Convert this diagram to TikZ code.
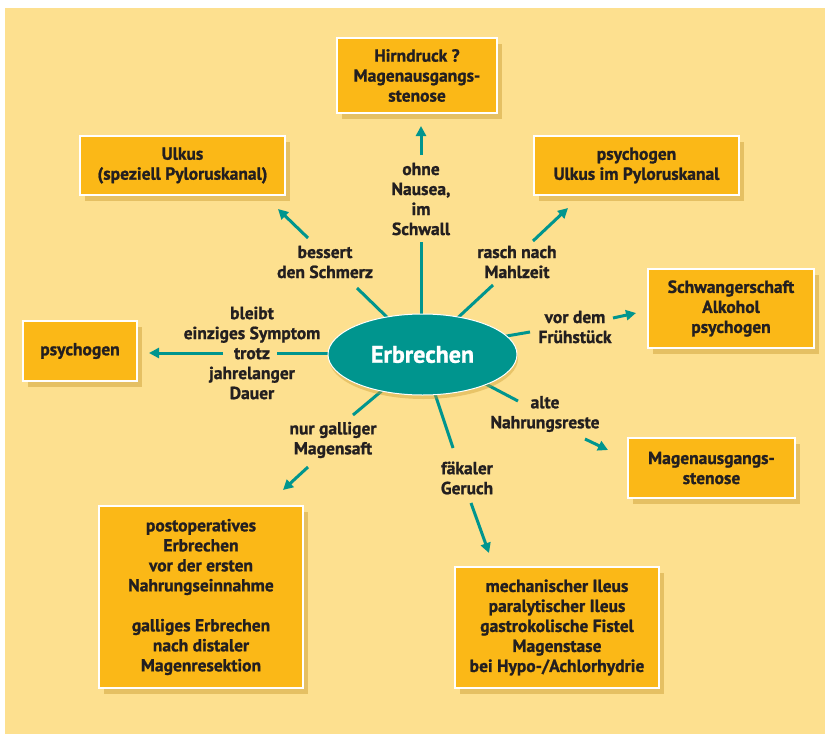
\documentclass[tikz,border=0pt]{standalone}
\usepackage{fontspec}
\setmainfont{PT Sans}[BoldFeatures={FakeBold=1.2}]
\usetikzlibrary{arrows.meta,shadows,shapes.geometric}
\definecolor{bgc}{HTML}{FDE08F}
\definecolor{boxc}{HTML}{FBB817}
\definecolor{tealc}{HTML}{00958E}
\definecolor{txtc}{HTML}{231F20}
\definecolor{shc}{HTML}{C99A2E}
\tikzset{
  box/.style={rectangle, fill=boxc, draw=white, line width=1.2pt, inner sep=0pt,
    align=center, text=txtc, font=\fontsize{17.5}{20}\selectfont\bfseries,
    drop shadow={shadow xshift=5pt, shadow yshift=-6pt, fill=shc, opacity=0.45}},
  lbl/.style={align=center, text=txtc, inner sep=0pt, font=\fontsize{17.5}{20}\selectfont\bfseries},
  spoke/.style={draw=tealc, line width=3pt},
  arr/.style={draw=tealc, line width=3pt, -{Triangle[length=10pt,width=10pt]}},
}
\begin{document}
\begin{tikzpicture}[x=1pt,y=-1pt]
\useasboundingbox (0,0) rectangle (825,734);
\fill[bgc] (5,8) rectangle (825,734);

% boxes
\node[box, minimum width=205, minimum height=59] (ulkus) at (182.5,165.5) {Ulkus\\(speziell Pyloruskanal)};
\node[box, minimum width=160, minimum height=75] (hirn) at (417,75.5) {Hirndruck ?\\Magenausgangs-\\stenose};
\node[box, minimum width=205, minimum height=59] (psyul) at (636.5,165.5) {psychogen\\Ulkus im Pyloruskanal};
\node[box, minimum width=166, minimum height=79] (schw) at (731,308.5) {Schwangerschaft\\Alkohol\\psychogen};
\node[box, minimum width=114, minimum height=60] (psyl) at (80,351) {psychogen};
\node[box, minimum width=167, minimum height=60] (mag) at (711.5,468) {Magenausgangs-\\stenose};
\node[box, minimum width=204, minimum height=182] (postop) at (201,597) {postoperatives\\Erbrechen\\vor der ersten\\Nahrungseinnahme\\[20pt]galliges Erbrechen\\nach distaler\\Magenresektion};
\node[box, minimum width=204, minimum height=121] (mech) at (557,627.5) {mechanischer Ileus\\paralytischer Ileus\\gastrokolische Fistel\\Magenstase\\bei Hypo-/Achlorhydrie};

% labels
\node[lbl] (lt) at (421,199) {ohne\\Nausea,\\im\\Schwall};
\node[lbl] (lul) at (325,262) {bessert\\den Schmerz};
\node[lbl] (lur) at (517,262) {rasch nach\\Mahlzeit};
\node[lbl] (lr) at (575,327) {vor dem\\Frühstück};
\node[lbl] (llr) at (545,414) {alte\\Nahrungsreste};
\node[lbl] (lb) at (467,478) {fäkaler\\Geruch};
\node[lbl] (lll) at (333,440) {nur galliger\\Magensaft};
\node[lbl] (ll) at (252,353) {bleibt\\einziges Symptom\\trotz\\jahrelanger\\Dauer};

% spoke coordinates
\coordinate (t1) at (421,330); \coordinate (t2) at (421,242);
\coordinate (t3) at (421,155); \coordinate (t4) at (421,126);
\coordinate (ul1) at (395,325); \coordinate (ul2) at (357,288);
\coordinate (ul3) at (308,238); \coordinate (ul4) at (278,209);
\coordinate (ur1) at (450,325); \coordinate (ur2) at (493,285);
\coordinate (ur3) at (533,241); \coordinate (ur4) at (568,208);
\coordinate (r1) at (495,338); \coordinate (r2) at (530,332);
\coordinate (r3) at (613,318); \coordinate (r4) at (636,313);
\coordinate (lr1) at (480,381); \coordinate (lr2) at (518,401);
\coordinate (lr3) at (585,439); \coordinate (lr4) at (608,450);
\coordinate (b1) at (432,385); \coordinate (b2) at (453,448);
\coordinate (b3) at (471,503); \coordinate (b4) at (489,553);
\coordinate (ll1) at (390,384); \coordinate (ll2) at (353,415);
\coordinate (ll3) at (308,467); \coordinate (ll4) at (283,490);
\coordinate (l1) at (345,353); \coordinate (l2) at (277,353);
\coordinate (l3) at (223,353); \coordinate (l4) at (149,353);

\foreach \s in {t,ul,ur,r,lr,b,ll,l}{
  \draw[spoke] (\s1) -- (\s2);
  \draw[arr] (\s3) -- (\s4);
}

% center
\node[ellipse, fill=tealc, draw=white, line width=1pt, minimum width=189, minimum height=81, inner sep=0pt,
  text=white, font=\fontsize{24}{26}\selectfont\bfseries,
  drop shadow={shadow xshift=1pt, shadow yshift=-4pt, fill=shc, opacity=0.4}] (E) at (422.5,354.5) {Erbrechen};
\end{tikzpicture}
\end{document}
